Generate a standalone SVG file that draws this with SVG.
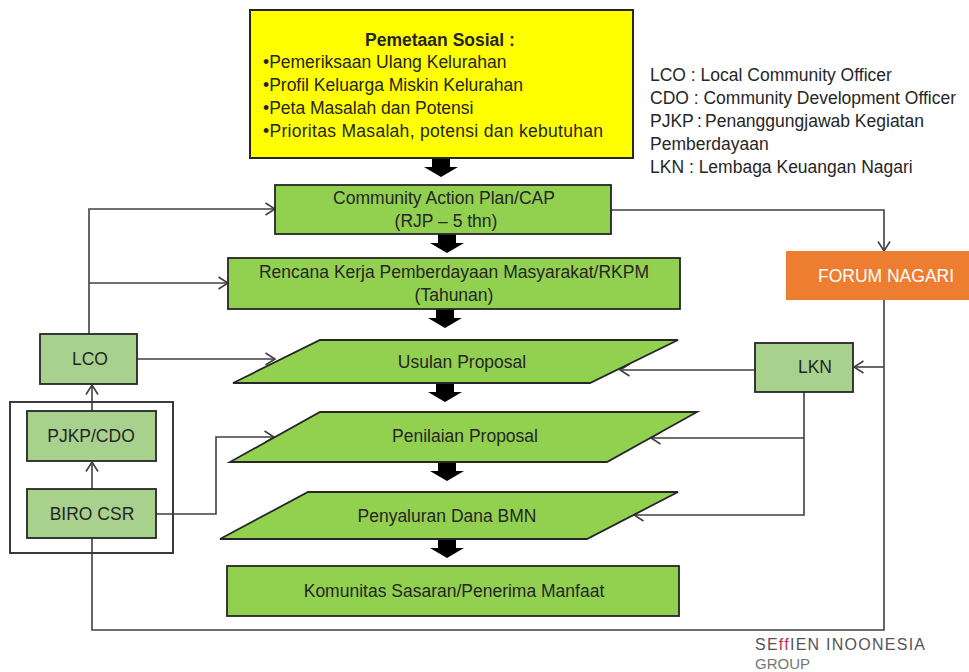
<svg xmlns="http://www.w3.org/2000/svg" width="969" height="672" viewBox="0 0 969 672">
<style>
text{font-family:"Liberation Sans",Arial,sans-serif;fill:#262626;font-size:17.5px}
.c{text-anchor:middle}
.b{font-weight:bold}
.g{fill:#92D050;stroke:#262626;stroke-width:1.8}
.lg{fill:#A9D18E;stroke:#262626;stroke-width:1.8}
.pg{fill:#92D050;stroke:#262626;stroke-width:1.8}
.ln{fill:none;stroke:#404040;stroke-width:1.6}
.la{fill:none;stroke:#404040;stroke-width:1.6;marker-end:url(#ah)}
.blk{fill:#000}
</style>
<defs>
<marker id="ah" markerUnits="userSpaceOnUse" markerWidth="12" markerHeight="14" refX="10.5" refY="7" orient="auto">
<path d="M1,1 L10.5,7 L1,13" fill="none" stroke="#404040" stroke-width="1.6"/>
</marker>
<path id="barrow" d="M-9,0 H9 V9 H17 L0,19 L-17,9 H-9 Z"/>
</defs>

<g id="connectors">
<path class="la" d="M89,334 V209 H275"/>
<path class="la" d="M89,283 H228"/>
<path class="la" d="M137,359 H275"/>
<path class="la" d="M92,411 V385"/>
<path class="la" d="M92,489 V462"/>
<path class="la" d="M156,514 H216 V437 H274"/>
<path class="ln" d="M92,538 V630 H884 V300"/>
<path class="la" d="M884,367 H854"/>
<path class="la" d="M611,210 H884 V251"/>
<path class="la" d="M755,370 H620"/>
<path class="la" d="M804,392 V515 H634"/>
<path class="la" d="M804,438 H651"/>
<use href="#barrow" class="blk" x="441" y="158"/>
<use href="#barrow" class="blk" x="447" y="234"/>
<use href="#barrow" class="blk" x="445" y="309"/>
<use href="#barrow" class="blk" x="445" y="383"/>
<use href="#barrow" class="blk" x="447" y="462"/>
<use href="#barrow" class="blk" x="447" y="539"/>
</g>

<g id="pemetaan">
<rect x="250" y="10" width="383" height="148" fill="#FFFF00" stroke="#262626" stroke-width="2"/>
<text x="440" y="46" class="c b">Pemetaan Sosial :</text>
<text x="263" y="68">•Pemeriksaan Ulang Kelurahan</text>
<text x="263" y="91">•Profil Keluarga Miskin Kelurahan</text>
<text x="263" y="114">•Peta Masalah dan Potensi</text>
<text x="263" y="137" textLength="340" lengthAdjust="spacing">•Prioritas Masalah, potensi dan kebutuhan</text>
</g>

<g id="legend">
<text x="650" y="81">LCO : Local Community Officer</text>
<text x="650" y="104">CDO : Community Development Officer</text>
<text y="127"><tspan x="650">PJKP </tspan><tspan x="697">: </tspan><tspan x="705">Penanggungjawab Kegiatan</tspan></text>
<text x="650" y="150">Pemberdayaan</text>
<text x="650" y="173">LKN : Lembaga Keuangan Nagari</text>
</g>

<g id="cap">
<rect class="g" x="275" y="185" width="336" height="49"/>
<text x="444" y="204" class="c">Community Action Plan/CAP</text>
<text x="446" y="227" class="c">(RJP – 5 thn)</text>
</g>

<g id="rkpm">
<rect class="g" x="228" y="258" width="452" height="51"/>
<text x="454" y="278" class="c">Rencana Kerja Pemberdayaan Masyarakat/RKPM</text>
<text x="454" y="301" class="c">(Tahunan)</text>
</g>

<g id="usulan">
<polygon class="pg" points="320,340 678,340 590,383 233,383"/>
<text x="462" y="368" class="c">Usulan Proposal</text>
</g>

<g id="penilaian">
<polygon class="pg" points="320,412 697,412 607,462 230,462"/>
<text x="465" y="442" class="c">Penilaian Proposal</text>
</g>

<g id="penyaluran">
<polygon class="pg" points="308,492 678,492 587,539 220,539"/>
<text x="447" y="522" class="c">Penyaluran Dana BMN</text>
</g>

<g id="komunitas">
<rect class="g" x="227" y="566" width="452" height="50"/>
<text x="454" y="597" class="c">Komunitas Sasaran/Penerima Manfaat</text>
</g>

<g id="forum">
<rect x="786" y="251" width="190" height="49" fill="#ED7D31"/>
<text x="886" y="282" class="c" style="fill:#fff">FORUM NAGARI</text>
</g>

<g id="lkn">
<rect class="lg" x="755" y="343" width="98" height="49"/>
<text x="815" y="373" class="c">LKN</text>
</g>

<g id="lco">
<rect class="lg" x="40" y="334" width="97" height="50"/>
<text x="90" y="365" class="c">LCO</text>
</g>

<g id="csr-group">
<rect x="10" y="402" width="163" height="151" fill="none" stroke="#3a3a3a" stroke-width="2"/>
</g>

<g id="pjkp">
<rect class="lg" x="27" y="411" width="129" height="50"/>
<text x="91" y="442" class="c">PJKP/CDO</text>
</g>

<g id="biro">
<rect class="lg" x="27" y="489" width="129" height="49"/>
<text x="92" y="520" class="c">BIRO CSR</text>
</g>

<g id="logo">
<text x="755" y="650" style="fill:#555;font-size:16px" textLength="170" lengthAdjust="spacing">SE<tspan style="fill:#C0304A">ff</tspan>IEN  INOONESIA</text>
<text x="755" y="669" style="fill:#777;font-size:15px">GROUP</text>
</g>
</svg>
